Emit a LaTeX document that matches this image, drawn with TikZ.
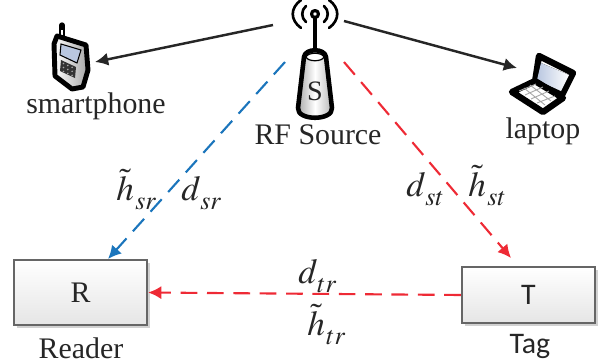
\documentclass[tikz,border=0pt]{standalone}
\usepackage{mathptmx}
\usepackage[no-math]{fontspec}
\setmainfont{Liberation Serif}
\newfontfamily\tagfont{Carlito}
\usetikzlibrary{arrows.meta,shadows}
\definecolor{linkblue}{HTML}{1B75BC}
\definecolor{linkred}{HTML}{EE2A35}
\definecolor{inkgray}{HTML}{262626}
\definecolor{screenblue}{HTML}{B9C7E0}
\newcommand{\lowsub}[1]{\mkern1mu\raisebox{-2.5pt}{$\scriptstyle #1$}}
\tikzset{
  lbl/.style={text=inkgray,font=\fontsize{17}{20}\selectfont,inner sep=0pt},
  mathlbl/.style={lbl,anchor=base west,font=\fontsize{20}{24}\selectfont},
  boxnode/.style={rectangle,draw=black!60,line width=1.3pt,top color=white,bottom color=black!10,
    text=inkgray,font=\fontsize{17}{20}\selectfont,drop shadow={shadow xshift=1.6pt,shadow yshift=-1.6pt,fill=black!30,opacity=.6}},
  solidlink/.style={line width=1.4pt,black!85,-{Latex[length=7.5pt,width=7.5pt]}},
  dashlink/.style={line width=1.2pt,dash pattern=on 9.5pt off 5.5pt,-{Latex[length=7.5pt,width=7.5pt]}},
  icon/.style={draw=black,line join=round,line cap=round},
}

\begin{document}
\begin{tikzpicture}[x=0.02cm,y=-0.02cm]
\useasboundingbox (0,0) rectangle (606,362);

% boxes
\node[boxnode,minimum width=2.66cm,minimum height=1.3cm] (reader) at (80.5,292.5) {R};
\node[boxnode,minimum width=2.66cm,minimum height=1.12cm,font=\tagfont\fontsize{17}{20}\selectfont] (tag) at (528.5,295) {T};
\node[lbl,anchor=base] (readerlbl) at (81,358) {Reader};
\node[lbl,anchor=base,font=\tagfont\fontsize{17}{20}\selectfont] (taglbl) at (530,353) {Tag};

% rf source
\draw[icon,line width=2.6pt] (315,14) -- (315,52);
\draw[icon,line width=1.8pt,fill=white] (315,14) circle (3.5);
\draw[icon,line width=1.5pt] (306,6) .. controls (301,10) and (301,18) .. (306,22);
\draw[icon,line width=1.5pt] (324,6) .. controls (329,10) and (329,18) .. (324,22);
\draw[icon,line width=1.5pt] (301,0) .. controls (290,8) and (290,20) .. (301,28);
\draw[icon,line width=1.5pt] (329,0) .. controls (340,8) and (340,20) .. (329,28);
\draw[icon,line width=2.6pt,left color=black!35,right color=black!30,middle color=white]
  (304,57) -- (298,108)
  .. controls (297,121) and (333,121) .. (332,108) -- (326,57)
  .. controls (325,48) and (305,48) .. (304,57) -- cycle;
\draw[line width=.7pt,fill=white] (306,57) .. controls (308,62) and (322,62) .. (324,57)
  .. controls (322,52) and (308,52) .. (306,57) -- cycle;
\node[lbl,font=\fontsize{16}{20}\selectfont] (snode) at (315,91) {S};
\node[lbl,anchor=base] (rflbl) at (318,144) {RF Source};

% phone
\draw[icon,line width=3pt] (62,25) -- (62,37);
\draw[white,line width=.8pt] (62,30) -- (62,36);
\draw[icon,line width=2.8pt,right color=black!35,left color=white]
  (57,36) -- (86,45) -- (88,70) -- (83,87) -- (72,89) -- (55,76) -- (54,44) -- cycle;
\fill[screenblue,draw=black,line width=.6pt] (61,44) -- (81,50) -- (77,63) -- (60,55) -- cycle;
\fill[black!80] (61,60) -- (76,67) -- (75,78) -- (60,71) -- cycle;
\foreach \kx in {0,1,2}
  \foreach \ky in {0,1,2}
    \fill[black!35] ({63.5+4.3*\kx},{63.5+1.9*\kx+4*\ky}) circle (.9);
\node[lbl,anchor=base] (phonelbl) at (96,113) {smartphone};

% laptop
\draw[icon,line width=3.6pt,fill=white] (539,56) -- (573,73) -- (562,95) -- (535,82) -- cycle;
\fill[left color=screenblue,right color=white] (541,63) -- (569,75) -- (561,91) -- (537,80) -- cycle;
\draw[icon,line width=3.6pt,fill=white] (512,92) -- (535,81) -- (563,98) -- (543,112) -- cycle;
\draw[black!35,line width=.5pt] (519,91) -- (536,84) (525,95) -- (543,87) (531,99) -- (549,91) (537,103) -- (555,96)
  (524,88) -- (545,105) (530,85) -- (551,101);
\node[lbl,anchor=base] (laptoplbl) at (543,138) {laptop};

% free ends of the links
\coordinate (srcleft) at (273,25);
\coordinate (srcright) at (344,21);
\coordinate (srcblue) at (285,62);
\coordinate (srcred) at (344,62);
\coordinate (phoneend) at (95,62);
\coordinate (laptopend) at (517,68);
\coordinate (blueend) at (108,259);
\coordinate (redend) at (511,258);

\draw[solidlink] (srcleft) -- (phoneend);
\draw[solidlink] (srcright) -- (laptopend);
\draw[dashlink,linkblue] (srcblue) -- (blueend);
\draw[dashlink,linkred] (srcred) -- (redend);
\draw[dashlink,linkred] (tag.west) -- (reader.east);

% channel labels
\node[mathlbl] (hsr) at (116,200) {$\tilde{h}_{\lowsub{sr}}$};
\node[mathlbl] (dsr) at (181,200) {$d_{\lowsub{sr}}$};
\node[mathlbl] (dst) at (406,196) {$d_{\lowsub{st}}$};
\node[mathlbl] (hst) at (468,196) {$\tilde{h}_{\lowsub{st}}$};
\node[mathlbl] (dtr) at (298,283) {$d_{\lowsub{tr}}$};
\node[mathlbl] (htr) at (307,335) {$\tilde{h}_{\lowsub{tr}}$};
\end{tikzpicture}
\end{document}
